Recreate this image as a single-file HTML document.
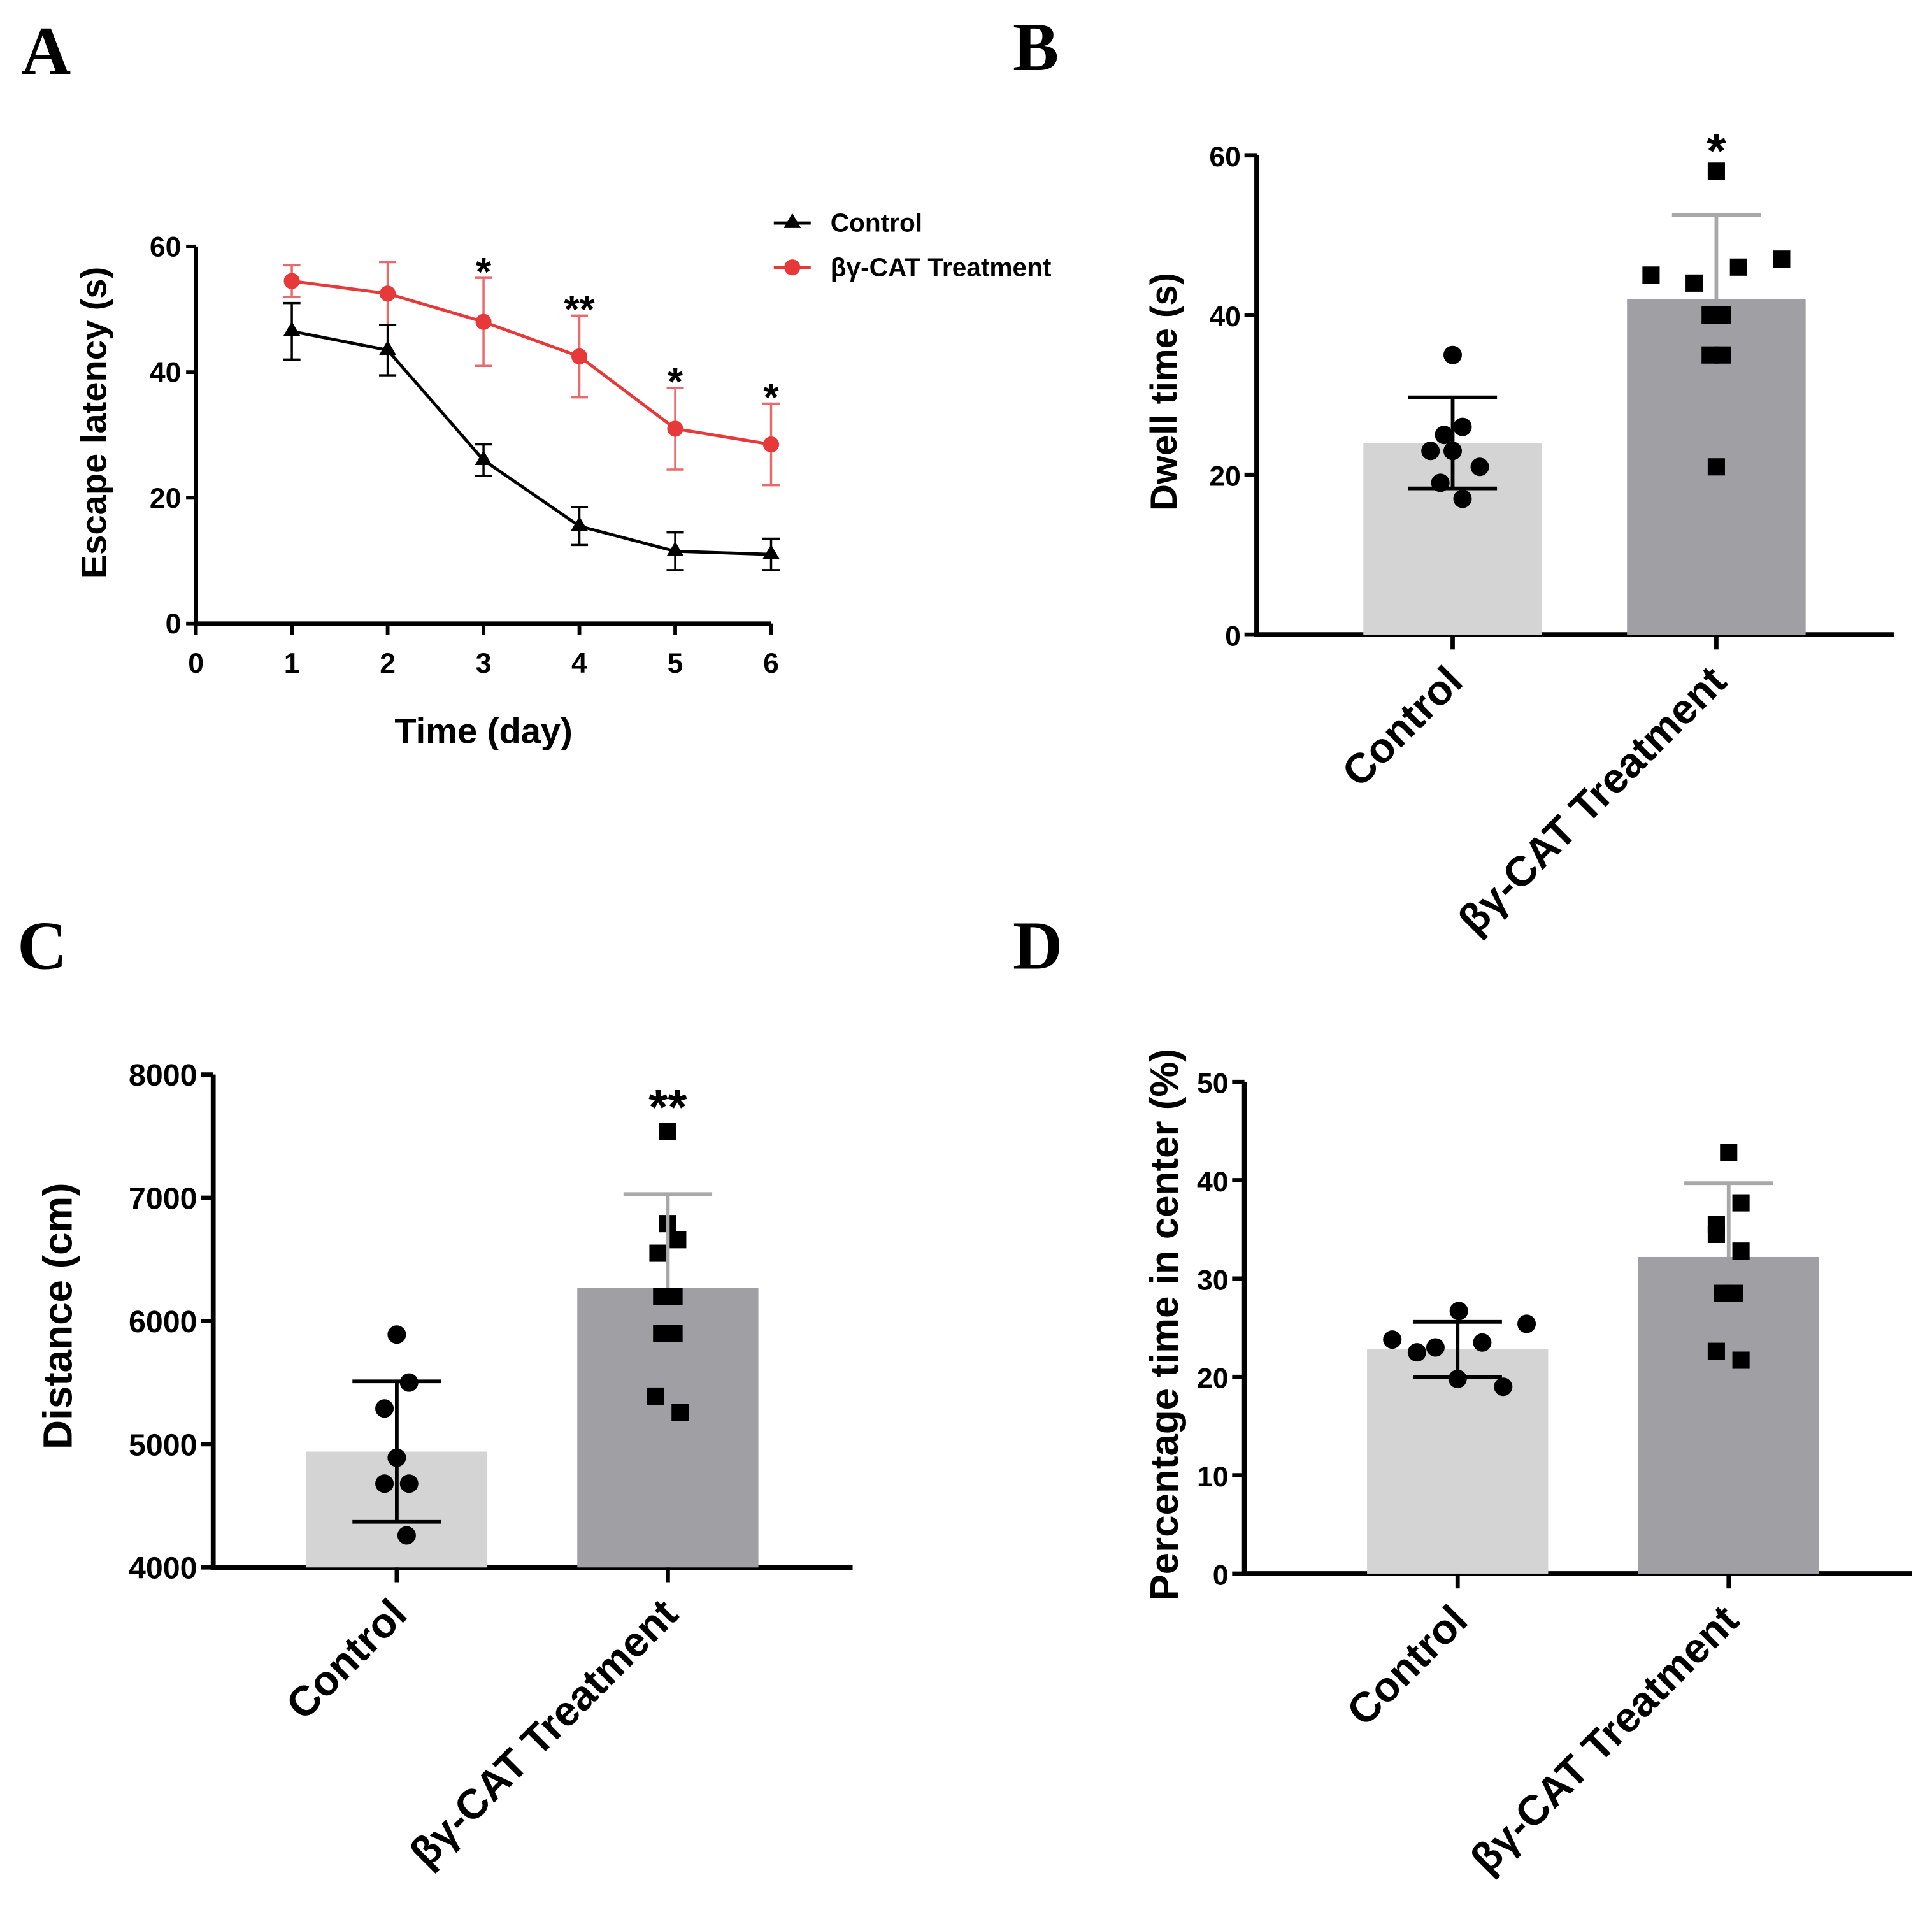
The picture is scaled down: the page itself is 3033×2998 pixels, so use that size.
<!DOCTYPE html>
<html><head><meta charset="utf-8"><style>
html,body{margin:0;padding:0;background:#fff;}
svg{display:block;font-family:"Liberation Sans",Arial,sans-serif;font-weight:bold;}
.ptl{font-family:"Liberation Serif",serif;font-weight:bold;font-size:56px;}
</style></head><body>
<svg id="fig" width="3033" height="2998" viewBox="0 0 1568 1550" xmlns="http://www.w3.org/2000/svg">
<text class="ptl" x="17" y="60">A</text>
<text class="ptl" x="822" y="57">B</text>
<text class="ptl" x="14" y="786">C</text>
<text class="ptl" x="822" y="786">D</text>
</svg>
<script>
// Panel A data
const daysA = [1,2,3,4,5,6];
const ctrlMean = [46.5,43.5,26,15.5,11.5,11];
const ctrlErr = [4.5,4,2.5,3,3,2.5];
const trtMean = [54.5,52.5,48,42.5,31,28.5];
const trtErr = [2.5,5,7,6.5,6.5,6.5];
const sigA = ["","","*","**","*","*"];
const ticksAy = [0,20,40,60];
const ticksAx = [0,1,2,3,4,5,6];
// Panel B data
const bMeans = [24,42];
const bErr = [5.7,10.5];
const bCtrlPts = [35,26,25,23,23,21,19,17];
const bTrtPts = [58,45,44,46,47,40,40,35,35,21];
const ticksB = [0,20,40,60];
// Panel C data
const cMeans = [4940,6270];
const cErr = [570,760];
const cCtrlPts = [5890,5500,5290,4890,4680,4680,4260];
const cTrtPts = [7540,6790,6660,6550,6200,6200,5900,5900,5390,5260];
const ticksC = [4000,5000,6000,7000,8000];
// Panel D data
const dMeans = [22.8,32.2];
const dErr = [2.8,7.5];
const dCtrlPts = [23.8,22.5,23,26.7,23.5,25.4,19.8,19];
const dTrtPts = [42.8,37.7,35.5,34.5,32.8,28.5,28.5,22.6,21.7];
const ticksD = [0,10,20,30,40,50];
const cats = ["Control","βγ-CAT Treatment"];

const svg = document.getElementById('fig');
const NS = 'http://www.w3.org/2000/svg';
function mk(tag, attrs, parent){const e=document.createElementNS(NS,tag);for(const k in attrs)e.setAttribute(k,attrs[k]);(parent||svg).appendChild(e);return e;}

// ---- Panel A ----
(function(){
  const g = mk('g',{});
  
  
  const x0=159, xpd=77.8, y0=506, ypu=306/60;
  const X=d=>x0+d*xpd, Y=v=>y0-v*ypu;
  const ax=mk('path',{d:`M${X(0)} ${Y(60)} V${Y(0)} H${X(6)}`,stroke:'#000','stroke-width':3.5,fill:'none'},g);
  
  
  ticksAy.forEach(t=>{mk('line',{x1:X(0)-8,x2:X(0),y1:Y(t),y2:Y(t),stroke:'#000','stroke-width':3},g);
    const tx=mk('text',{x:X(0)-12,y:Y(t)+8,'text-anchor':'end','font-size':23},g);tx.textContent=t;
    
    });
  ticksAx.forEach(t=>{mk('line',{x1:X(t),x2:X(t),y1:Y(0),y2:Y(0)+9,stroke:'#000','stroke-width':3},g);
    const tx=mk('text',{x:X(t),y:Y(0)+40,'text-anchor':'middle','font-size':23},g);tx.textContent=t;
    
    });
  const yt=mk('text',{transform:`translate(86 ${Y(30)-10}) rotate(-90)`,'text-anchor':'middle','font-size':29},g);yt.textContent='Escape latency (s)';
  
  
  const xt=mk('text',{x:X(3),y:603,'text-anchor':'middle','font-size':29},g);xt.textContent='Time (day)';
  
  
  function series(mean,err,color,ecol,marker){
    mk('polyline',{points:daysA.map((d,i)=>X(d)+','+Y(mean[i])).join(' '),fill:'none',stroke:color,'stroke-width':2.5},g);
    daysA.forEach((d,i)=>{
      mk('path',{d:`M${X(d)} ${Y(mean[i]-err[i])} V${Y(mean[i]+err[i])} M${X(d)-7} ${Y(mean[i]-err[i])} h14 M${X(d)-7} ${Y(mean[i]+err[i])} h14`,stroke:ecol,'stroke-width':1.8,fill:'none'},g);
      let m;
      if(marker==='tri') m=mk('path',{d:`M${X(d)} ${Y(mean[i])-8} l7 12 h-14z`,fill:color},g);
      else m=mk('circle',{cx:X(d),cy:Y(mean[i]),r:6.5,fill:color},g);
      
      
    });
  }
  series(trtMean,trtErr,'#e8393a','#e86a6a','dot');
  series(ctrlMean,ctrlErr,'#000','#000','tri');
  daysA.forEach((d,i)=>{if(sigA[i]){const s=mk('text',{x:X(d),y:Y(trtMean[i]+trtErr[i])+6,'text-anchor':'middle','font-size':32},g);s.textContent=sigA[i];
    
    }});
  const l1=mk('g',{},g);
  
  
  mk('line',{x1:628,x2:658,y1:181,y2:181,stroke:'#000','stroke-width':2.5},l1);
  mk('path',{d:'M643 173 l7 12 h-14z',fill:'#000'},l1);
  const t1=mk('text',{x:674,y:188,'font-size':21},l1);t1.textContent='Control';
  const l2=mk('g',{},g);
  
  
  mk('line',{x1:628,x2:658,y1:217,y2:217,stroke:'#e8393a','stroke-width':2.5},l2);
  mk('circle',{cx:643,cy:217,r:6.5,fill:'#e8393a'},l2);
  const t2=mk('text',{x:674,y:224,'font-size':21},l2);t2.textContent='βγ-CAT Treatment';
})();

// ---- Bar panels ----
function barPanel(o){
  const g=mk('g',{});
  
  
  const Y=v=>o.y0-(v-o.vmin)*o.ppu;
  const ymax=o.ticks[o.ticks.length-1];
  const ax=mk('path',{d:`M${o.ax} ${Y(ymax)} V${Y(o.vmin)} H${o.xend}`,stroke:'#000','stroke-width':4,fill:'none'},g);
  
  
  o.ticks.forEach(t=>{mk('line',{x1:o.ax-10,x2:o.ax,y1:Y(t),y2:Y(t),stroke:'#000','stroke-width':3.5},g);
    const tx=mk('text',{x:o.ax-13,y:Y(t)+9,'text-anchor':'end','font-size':o.fs},g);tx.textContent=t;
    
    });
  const yt=mk('text',{transform:`translate(${o.ytx} ${o.yty}) rotate(-90)`,'text-anchor':'middle','font-size':o.tfs},g);yt.textContent=o.ytitle;
  
  
  const fills=['#d4d4d4','#a0a0a4'];
  const pts=[o.cpts,o.tpts];
  o.cx.forEach((cx,i)=>{
    const b=mk('rect',{x:cx-o.bw/2,y:Y(o.means[i]),width:o.bw,height:Y(o.vmin)-Y(o.means[i]),fill:fills[i]},g);
    
    
    mk('line',{x1:cx,x2:cx,y1:Y(o.vmin),y2:Y(o.vmin)+12,stroke:'#000','stroke-width':3.5},g);
    const lt=mk('text',{transform:`translate(${cx+10} ${Y(o.vmin)+40}) rotate(-45)`,'text-anchor':'end','font-size':34},g);lt.textContent=cats[i];
    
    
  });
  o.cx.forEach((cx,i)=>{
    pts[i].forEach((v,j)=>{
      const px=cx+o.offs[i][j];let m;
      if(i===0) m=mk('circle',{cx:px,cy:Y(v),r:7.5,fill:'#000'},g);
      else m=mk('rect',{x:px-7,y:Y(v)-7,width:14,height:14,fill:'#000'},g);
      
      
    });
  });
  o.cx.forEach((cx,i)=>{
    const col=i?'#a8a8a8':'#000';
    const hi=Y(o.means[i]+o.err[i]), lo=Y(o.means[i]-o.err[i]);
    const d=i?`M${cx} ${Y(o.means[i])} V${hi} M${cx-36} ${hi} h72`:`M${cx} ${lo} V${hi} M${cx-36} ${hi} h72 M${cx-36} ${lo} h72`;
    const e=mk('path',{d:d,stroke:col,'stroke-width':3,fill:'none'},g);
    
    
  });
  if(o.sig){const s=mk('text',{x:o.cx[1],y:o.sigy,'text-anchor':'middle','font-size':40},g);s.textContent=o.sig;
    
    }
}
barPanel({name:'panel-b-bar-chart',ax:1020,xend:1537,y0:515,vmin:0,ppu:389/60,ticks:ticksB,fs:23,tfs:30,ytitle:'Dwell time (s)',ytx:955,yty:318,
  cx:[1179,1393],bw:145,means:bMeans,err:bErr,cpts:bCtrlPts,tpts:bTrtPts,
  offs:[[0,8,-7,-18,0,22,-10,8],[0,-53,-18,18,53,-5,5,-5,5,0]],sig:'*',sigy:136});
barPanel({name:'panel-c-bar-chart',ax:173,xend:692,y0:1272,vmin:4000,ppu:400/4000,ticks:ticksC,fs:25,tfs:33,ytitle:'Distance (cm)',ytx:58,yty:1068,
  cx:[322,542],bw:147,means:cMeans,err:cErr,cpts:cCtrlPts,tpts:cTrtPts,
  offs:[[0,10,-10,0,-10,10,8],[0,0,8,-8,-5,5,-5,5,-10,10]],sig:'**',sigy:912});
barPanel({name:'panel-d-bar-chart',ax:1010,xend:1552,y0:1277,vmin:0,ppu:399/50,ticks:ticksD,fs:23,tfs:32,ytitle:'Percentage time in center (%)',ytx:956,yty:1075,
  cx:[1183,1403],bw:147,means:dMeans,err:dErr,cpts:dCtrlPts,tpts:dTrtPts,
  offs:[[-53,-33,-18,1,20,56,0,37],[0,10,-10,-10,10,-5,5,-10,10]],sig:'',sigy:0});
</script>
</body></html>
